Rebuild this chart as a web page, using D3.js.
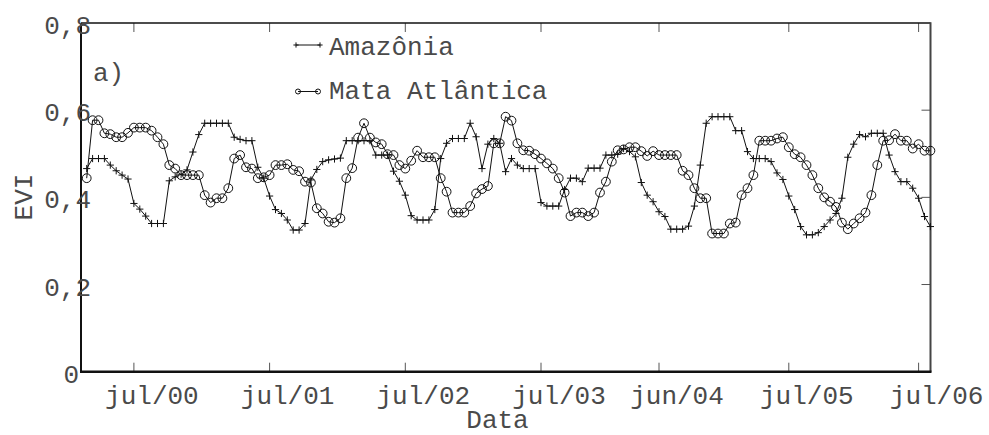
<!DOCTYPE html>
<html>
<head>
<meta charset="utf-8">
<script src="https://cdn.jsdelivr.net/npm/d3@7"></script>
<style>
  body { margin: 0; background: #fff; }
  text { font-family: "Liberation Mono", "DejaVu Sans Mono", monospace; font-size: 26px; fill: #4a4a4a; }
</style>
</head>
<body>
<svg id="chart" width="989" height="435"></svg>
<script>
// EVI series, 16-day composites (one value per composite)
const amazonia = [
  0.466, 0.489, 0.489, 0.489, 0.474, 0.461, 0.451, 0.442, 0.386, 0.373,
  0.357, 0.340, 0.340, 0.340, 0.438, 0.447, 0.453, 0.463, 0.504, 0.544,
  0.570, 0.570, 0.570, 0.570, 0.570, 0.538, 0.533, 0.530, 0.530, 0.469,
  0.444, 0.403, 0.372, 0.363, 0.348, 0.325, 0.325, 0.340, 0.440, 0.464,
  0.482, 0.486, 0.488, 0.490, 0.530, 0.530, 0.530, 0.530, 0.530, 0.497,
  0.497, 0.497, 0.460, 0.437, 0.405, 0.358, 0.348, 0.348, 0.348, 0.372,
  0.489, 0.524, 0.535, 0.535, 0.535, 0.570, 0.539, 0.466, 0.522, 0.535,
  0.524, 0.459, 0.489, 0.474, 0.466, 0.466, 0.466, 0.388, 0.380, 0.380,
  0.380, 0.418, 0.444, 0.444, 0.436, 0.467, 0.467, 0.467, 0.497, 0.497,
  0.499, 0.512, 0.505, 0.493, 0.434, 0.405, 0.390, 0.367, 0.356, 0.327,
  0.327, 0.327, 0.334, 0.380, 0.474, 0.570, 0.585, 0.585, 0.585, 0.585,
  0.553, 0.553, 0.505, 0.489, 0.489, 0.489, 0.482, 0.456, 0.441, 0.403,
  0.372, 0.333, 0.314, 0.314, 0.319, 0.333, 0.348, 0.363, 0.398, 0.492,
  0.522, 0.544, 0.539, 0.547, 0.547, 0.547, 0.497, 0.459, 0.436, 0.436,
  0.421, 0.398, 0.356, 0.333
];
const mataAtlantica = [
  0.444, 0.577, 0.577, 0.547, 0.545, 0.538, 0.538, 0.548, 0.560, 0.560,
  0.560, 0.553, 0.538, 0.522, 0.474, 0.466, 0.451, 0.451, 0.451, 0.451,
  0.405, 0.388, 0.398, 0.398, 0.421, 0.489, 0.497, 0.469, 0.466, 0.444,
  0.446, 0.451, 0.474, 0.474, 0.476, 0.463, 0.460, 0.436, 0.434, 0.375,
  0.363, 0.344, 0.342, 0.352, 0.444, 0.467, 0.537, 0.570, 0.537, 0.526,
  0.522, 0.499, 0.497, 0.474, 0.466, 0.484, 0.507, 0.492, 0.492, 0.492,
  0.444, 0.413, 0.365, 0.365, 0.365, 0.380, 0.409, 0.419, 0.426, 0.524,
  0.524, 0.585, 0.576, 0.524, 0.508, 0.507, 0.499, 0.489, 0.478, 0.466,
  0.444, 0.411, 0.357, 0.365, 0.365, 0.357, 0.365, 0.411, 0.436, 0.482,
  0.508, 0.510, 0.515, 0.515, 0.506, 0.495, 0.506, 0.497, 0.497, 0.497,
  0.497, 0.461, 0.451, 0.421, 0.398, 0.398, 0.317, 0.317, 0.317, 0.340,
  0.342, 0.405, 0.421, 0.451, 0.530, 0.530, 0.530, 0.535, 0.538, 0.515,
  0.499, 0.492, 0.474, 0.451, 0.421, 0.400, 0.390, 0.378, 0.342, 0.327,
  0.340, 0.352, 0.365, 0.405, 0.474, 0.530, 0.531, 0.545, 0.530, 0.530,
  0.512, 0.522, 0.507, 0.507
];
// date ticks, placed at composite indices
const tickIndex  = [8, 31, 54, 77, 97, 119, 141];
const tickLabels = ["jul/00", "jul/01", "jul/02", "jul/03", "jun/04", "jul/05", "jul/06"];
const yTicks = [0, 0.2, 0.4, 0.6, 0.8];
const seriesNames = ["Amazônia", "Mata Atlântica"];

const svg = d3.select("#chart");
const plot = { left: 81, right: 930.5, top: 23, bottom: 371.7 };
const estChar = 9.6; // nominal character width used to place labels

const x = d3.scaleLinear().domain([0, amazonia.length - 1]).range([86.7, 930.4]);
const y = d3.scaleLinear().domain([0, 0.8]).range([plot.bottom, plot.top]);
const fmt = v => d3.format(".1~f")(v).replace(".", ",");

// inward tick marks on all four sides
const tickLen = 9;
const gTicks = svg.append("g").attr("stroke", "#555").attr("stroke-width", 1);
gTicks.selectAll("line.b").data(tickIndex).join("line")
  .attr("x1", d => x(d)).attr("x2", d => x(d))
  .attr("y1", plot.bottom).attr("y2", plot.bottom - tickLen);
gTicks.selectAll("line.t").data(tickIndex).join("line")
  .attr("x1", d => x(d)).attr("x2", d => x(d))
  .attr("y1", plot.top).attr("y2", plot.top + tickLen);
gTicks.selectAll("line.r").data(yTicks.slice(1, -1)).join("line")
  .attr("x1", plot.right).attr("x2", plot.right - tickLen)
  .attr("y1", d => y(d)).attr("y2", d => y(d));

// frame
svg.append("line").attr("x1", plot.left).attr("x2", plot.right).attr("y1", plot.top).attr("y2", plot.top)
  .attr("stroke", "#111").attr("stroke-width", 1.5);
svg.append("line").attr("x1", plot.right).attr("x2", plot.right).attr("y1", plot.top - 0.7).attr("y2", plot.bottom)
  .attr("stroke", "#444").attr("stroke-width", 2);
svg.append("line").attr("x1", plot.left).attr("x2", plot.left).attr("y1", plot.top).attr("y2", plot.bottom)
  .attr("stroke", "#111").attr("stroke-width", 2);
svg.append("line").attr("x1", plot.left - 1).attr("x2", plot.right + 1).attr("y1", plot.bottom).attr("y2", plot.bottom)
  .attr("stroke", "#111").attr("stroke-width", 2.5);

// tick labels
svg.selectAll("text.ytl").data(yTicks).join("text")
  .attr("x", d => 73 - fmt(d).length * estChar)
  .attr("y", d => y(d) + 11)
  .text(d => fmt(d));
svg.selectAll("text.xtl").data(tickIndex).join("text")
  .attr("x", (d, i) => x(d) - tickLabels[i].length * estChar / 2)
  .attr("y", 404)
  .text((d, i) => tickLabels[i]);

// axis titles
svg.append("text").attr("text-anchor", "middle").attr("x", 497.5).attr("y", 428).text("Data");
svg.append("text").attr("text-anchor", "middle")
  .attr("transform", "translate(31.5,197) rotate(-90)").text("EVI");
svg.append("text").attr("x", 93).attr("y", 80.5).text("a)");

// series
const line = d3.line().x((d, i) => x(i)).y(d => y(d));
const plus = (g, cx, cy, r) => g.append("path")
  .attr("d", `M${cx - r},${cy}H${cx + r}M${cx},${cy - r}V${cy + r}`);

const gA = svg.append("g").attr("fill", "none").attr("stroke", "#111").attr("stroke-width", 1);
gA.append("path").attr("d", line(amazonia));
amazonia.forEach((v, i) => plus(gA, x(i), y(v), 3.6));

const gM = svg.append("g").attr("fill", "none").attr("stroke", "#111").attr("stroke-width", 1);
gM.append("path").attr("d", line(mataAtlantica));
gM.selectAll("circle").data(mataAtlantica).join("circle")
  .attr("cx", (d, i) => x(i)).attr("cy", d => y(d)).attr("r", 4.4);

// legend
const lg = svg.append("g").attr("fill", "none").attr("stroke", "#111").attr("stroke-width", 1);
lg.append("line").attr("x1", 296).attr("x2", 320).attr("y1", 45).attr("y2", 45);
plus(lg, 296, 45, 2.6); plus(lg, 320, 45, 2.6);
lg.append("line").attr("x1", 298).attr("x2", 318).attr("y1", 91.5).attr("y2", 91.5);
lg.append("circle").attr("cx", 298).attr("cy", 91.5).attr("r", 2.5);
lg.append("circle").attr("cx", 318).attr("cy", 91.5).attr("r", 2.5);
svg.append("text").attr("x", 329).attr("y", 55).text(seriesNames[0]);
svg.append("text").attr("x", 329).attr("y", 98.5).text(seriesNames[1]);
</script>
</body>
</html>
